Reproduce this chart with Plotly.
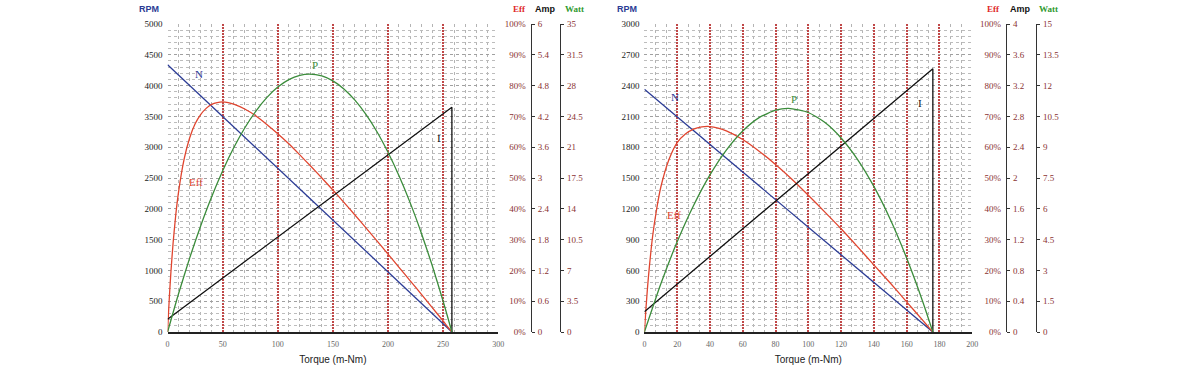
import plotly.graph_objects as go

# ---------------- Left motor data ----------------
L_speed_t = [0, 258]
L_speed = [4340, 0]
L_cur_t = [0, 258, 258]
L_cur = [0.25, 4.38, 0]
L_eff_t = [0, 1, 2, 3, 5, 7.5, 10, 15, 20, 25, 30, 35, 40, 45, 50, 55, 60, 70, 80, 90, 100,
           110, 120, 130, 140, 150, 160, 170, 180, 190, 200, 210, 220, 230, 240, 250, 255, 258]
L_eff = [0, 7.3, 13.7, 19.4, 28.9, 38.3, 45.6, 56.1, 63.0, 67.6, 70.6, 72.6, 73.9, 74.5, 74.7, 74.5,
         74.0, 72.4, 70.2, 67.4, 64.4, 61.1, 57.5, 53.8, 50.0, 46.1, 42.1, 38.0, 33.8, 29.6, 25.3,
         21.0, 16.7, 12.4, 8.0, 3.6, 1.3, 0]
L_pow_t = [0, 10, 20, 30, 40, 50, 60, 70, 80, 90, 100, 110, 120, 129, 140, 150, 160, 170, 180,
           190, 200, 210, 220, 230, 240, 250, 258]
L_pow = [0, 4.37, 8.39, 12.05, 15.36, 18.32, 20.93, 23.18, 25.08, 26.63, 27.83, 28.68, 29.17,
         29.31, 29.10, 28.54, 27.62, 26.35, 24.73, 22.76, 20.43, 17.76, 14.73, 11.34, 7.61, 3.52, 0]

L_x_ticks = [0, 50, 100, 150, 200, 250, 300]
L_rpm_ticks = [0, 500, 1000, 1500, 2000, 2500, 3000, 3500, 4000, 4500, 5000]
L_amp_ticks = [0, 0.6, 1.2, 1.8, 2.4, 3, 3.6, 4.2, 4.8, 5.4, 6]
L_amp_text = ["0", "0.6", "1.2", "1.8", "2.4", "3", "3.6", "4.2", "4.8", "5.4", "6"]
L_watt_ticks = [0, 3.5, 7, 10.5, 14, 17.5, 21, 24.5, 28, 31.5, 35]
L_watt_text = ["0", "3.5", "7", "10.5", "14", "17.5", "21", "24.5", "28", "31.5", "35"]

# ---------------- Right motor data ----------------
R_speed_t = [0, 176]
R_speed = [2364, 0]
R_cur_t = [0, 176, 176]
R_cur = [0.264, 3.42, 0]
R_eff_t = [0, 1, 2, 3, 5, 7.5, 10, 15, 20, 25, 30, 35, 40, 45, 50, 60, 70, 80, 90, 100, 110,
           120, 130, 140, 150, 160, 170, 174, 176]
R_eff = [0, 8.0, 15.0, 21.0, 31.0, 40.0, 47.0, 56.0, 61.5, 64.3, 65.9, 66.6, 66.7, 66.2, 65.3,
         62.5, 58.7, 54.4, 49.6, 44.4, 39.0, 33.5, 27.7, 21.8, 15.9, 9.8, 3.7, 1.2, 0]
R_pow_t = [0, 10, 20, 30, 40, 50, 60, 70, 80, 88, 100, 110, 120, 130, 140, 150, 160, 170, 176]
R_pow = [0, 2.34, 4.39, 6.16, 7.65, 8.86, 9.79, 10.44, 10.80, 10.89, 10.69, 10.21, 9.45, 8.41,
         7.09, 5.49, 3.60, 1.44, 0]

R_x_ticks = [0, 20, 40, 60, 80, 100, 120, 140, 160, 180, 200]
R_rpm_ticks = [0, 300, 600, 900, 1200, 1500, 1800, 2100, 2400, 2700, 3000]
R_amp_ticks = [0, 0.4, 0.8, 1.2, 1.6, 2, 2.4, 2.8, 3.2, 3.6, 4]
R_amp_text = ["0", "0.4", "0.8", "1.2", "1.6", "2", "2.4", "2.8", "3.2", "3.6", "4"]
R_watt_ticks = [0, 1.5, 3, 4.5, 6, 7.5, 9, 10.5, 12, 13.5, 15]
R_watt_text = ["0", "1.5", "3", "4.5", "6", "7.5", "9", "10.5", "12", "13.5", "15"]

eff_ticks = [0, 10, 20, 30, 40, 50, 60, 70, 80, 90, 100]
eff_text = [f"{v}%" for v in eff_ticks]

# ---------------- styling ----------------
W = 1200.0
BLUE = "#2b3b95"
RED = "#e0452f"
GREEN = "#3b8c3b"
BLACK = "#111111"
TICKRED = "#8a3232"
MAJOR_RED = "#c04848"
SERIF = "Liberation Serif, Times New Roman, serif"
SANS = "Liberation Sans, Arial, sans-serif"


def minor_positions(top, step, per_major):
    # grid positions between the major lines (layout only)
    n = int(round(top / step))
    return [k * step for k in range(n + 1) if k % per_major != 0]


fig = go.Figure()

def add_panel(xa, ya_rpm, ya_eff, ya_amp, ya_watt, sp_t, sp, ef_t, ef, cu_t, cu, pw_t, pw):
    fig.add_trace(go.Scatter(x=sp_t, y=sp, mode="lines", line=dict(color=BLUE, width=1.3),
                             xaxis=xa, yaxis=ya_rpm, hoverinfo="skip"))
    fig.add_trace(go.Scatter(x=ef_t, y=ef, mode="lines",
                             line=dict(color=RED, width=1.3, shape="spline", smoothing=0.6),
                             xaxis=xa, yaxis=ya_eff, hoverinfo="skip"))
    fig.add_trace(go.Scatter(x=pw_t, y=pw, mode="lines",
                             line=dict(color=GREEN, width=1.3, shape="spline", smoothing=0.6),
                             xaxis=xa, yaxis=ya_watt, hoverinfo="skip"))
    fig.add_trace(go.Scatter(x=cu_t, y=cu, mode="lines", line=dict(color=BLACK, width=1.3),
                             xaxis=xa, yaxis=ya_amp, hoverinfo="skip"))

add_panel("x", "y", "y2", "y3", "y4", L_speed_t, L_speed, L_eff_t, L_eff, L_cur_t, L_cur, L_pow_t, L_pow)
add_panel("x2", "y5", "y6", "y7", "y8", R_speed_t, R_speed, R_eff_t, R_eff, R_cur_t, R_cur, R_pow_t, R_pow)

def xaxis_cfg(dom, rng, ticks, minor_vals, anchor):
    return dict(domain=dom, range=rng, anchor=anchor, tickvals=ticks, ticktext=[str(t) for t in ticks],
                showgrid=True, gridcolor=MAJOR_RED, griddash="2px,1px", gridwidth=1.6,
                minor=dict(tickvals=minor_vals, showgrid=True, gridcolor="#b4b4b4", griddash="dot", gridwidth=1),
                zeroline=False, showline=True, linecolor="#222222", linewidth=1.5,
                ticks="", tickfont=dict(family=SERIF, size=8, color="#666666"),
                ticklabelstandoff=4, fixedrange=True,
                title=dict(text="Torque (m-Nm)", font=dict(family=SANS, size=10, color="#222222"), standoff=8))

def yaxis_cfg(rng, ticks, minor_vals, anchor):
    return dict(range=rng, anchor=anchor, tickvals=ticks, ticktext=[str(t) for t in ticks],
                showgrid=True, gridcolor="#a0a0a0", griddash="dot", gridwidth=1,
                minor=dict(tickvals=minor_vals, showgrid=True, gridcolor="#bcbcbc", griddash="dot", gridwidth=1),
                zeroline=False, showline=False, ticks="",
                tickfont=dict(family=SERIF, size=9, color="#222222"), ticklabelstandoff=4, fixedrange=True)

def eff_cfg(over, pos):
    return dict(overlaying=over, anchor="free", position=pos, side="left", range=[0, 100],
                tickvals=eff_ticks, ticktext=eff_text, showgrid=False, zeroline=False,
                showline=False, ticks="", ticklabelstandoff=5,
                tickfont=dict(family=SERIF, size=9, color=TICKRED), fixedrange=True)

def side_cfg(over, pos, rng, ticks, text):
    return dict(overlaying=over, anchor="free", position=pos, side="right", range=rng,
                tickvals=ticks, ticktext=text, showgrid=False, zeroline=False,
                showline=True, linecolor="#333333", linewidth=1.3, ticks="outside", ticklen=3,
                tickcolor="#333333", tickwidth=1.2, ticklabelstandoff=1,
                tickfont=dict(family=SERIF, size=9, color=TICKRED), fixedrange=True)

L_dom = [166.7 / W, 499.5 / W]
R_dom = [646.7 / W, 976.7 / W]

fig.update_layout(
    width=1200, height=366, margin=dict(l=0, r=0, t=24, b=34),
    paper_bgcolor="white", plot_bgcolor="white", showlegend=False,
    xaxis=xaxis_cfg(L_dom, [0, 300], L_x_ticks, minor_positions(300, 10, 5), "y"),
    yaxis=yaxis_cfg([0, 5000], L_rpm_ticks, minor_positions(5000, 100, 5), "x"),
    yaxis2=eff_cfg("y", 532.3 / W),
    yaxis3=side_cfg("y", 532.3 / W, [0, 6], L_amp_ticks, L_amp_text),
    yaxis4=side_cfg("y", 561.7 / W, [0, 35], L_watt_ticks, L_watt_text),
    xaxis2=xaxis_cfg(R_dom, [0, 200], R_x_ticks, minor_positions(200, 20 / 3, 3), "y5"),
    yaxis5=yaxis_cfg([0, 3000], R_rpm_ticks, minor_positions(3000, 60, 5), "x2"),
    yaxis6=eff_cfg("y5", 1010.7 / W),
    yaxis7=side_cfg("y5", 1010.7 / W, [0, 4], R_amp_ticks, R_amp_text),
    yaxis8=side_cfg("y5", 1041.0 / W, [0, 15], R_watt_ticks, R_watt_text),
)

# axis header labels
head_y = 1 + 15 / 308
headers = [
    ("RPM", 148, BLUE, SANS), ("Eff", 521, "#e02a2a", SERIF), ("Amp", 547, BLACK, SANS), ("Watt", 576, "#2f9a2f", SERIF),
    ("RPM", 629, BLUE, SANS), ("Eff", 998, "#e02a2a", SERIF), ("Amp", 1025, BLACK, SANS), ("Watt", 1054, "#2f9a2f", SERIF),
]
for txt, xp, col, fam in headers:
    fig.add_annotation(text=f"<b>{txt}</b>", x=xp / W, y=head_y, xref="paper", yref="paper",
                       showarrow=False, xanchor="center", yanchor="middle",
                       font=dict(family=fam, size=9, color=col))

# curve labels
curve_labels = [
    ("N", 28.5, 4183, "x", "y", BLUE), ("P", 133.6, 4334, "x", "y", GREEN),
    ("Eff", 25.5, 2440, "x", "y", RED), ("I", 246.2, 3149, "x", "y", BLACK),
    ("N", 18.8, 2286, "x2", "y5", BLUE), ("P", 91.5, 2267, "x2", "y5", GREEN),
    ("Eff", 18.2, 1140, "x2", "y5", RED), ("I", 168.1, 2231, "x2", "y5", BLACK),
]
for txt, xv, yv, xr, yr, col in curve_labels:
    fig.add_annotation(text=txt, x=xv, y=yv, xref=xr, yref=yr, showarrow=False,
                       xanchor="center", yanchor="middle",
                       font=dict(family=SERIF, size=11, color=col))

fig.write_html("out.html", config={"displayModeBar": False},
               post_script="document.body.style.margin='0';document.body.style.overflow='hidden';")
